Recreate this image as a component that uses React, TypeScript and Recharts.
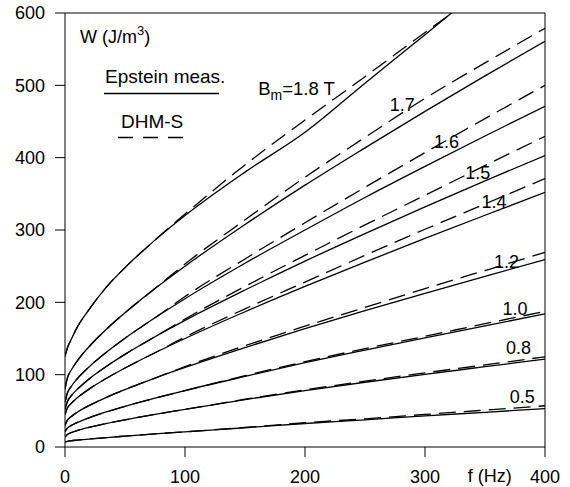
import React from 'react';
import { LineChart, Line, XAxis, YAxis, ReferenceLine, ReferenceDot, Legend } from 'recharts';

const FONT = '"Liberation Sans", Arial, Helvetica, sans-serif';

// frequency grid (Hz)
const FREQ = [0, 2, 5, 10, 20, 35, 50, 75, 100, 150, 200, 250, 300, 350, 400];
const FREQ_18 = [0, 2, 5, 10, 20, 35, 50, 75, 100, 150, 200, 250, 300, 325];

// Epstein measurement (solid), W in J/m^3
const EPSTEIN_05 = [7, 7.9, 8.6, 9.5, 11, 13.1, 15, 18.1, 21, 26.6, 32.5, 37.6, 43, 48, 53];
const EPSTEIN_08 = [14, 17.4, 19.8, 22.6, 27.1, 32.7, 37.6, 45.1, 52, 65.5, 78, 89.5, 100.5, 111, 121.5];
const EPSTEIN_10 = [21, 26.1, 29.5, 33.7, 40.4, 48.8, 56.2, 67.5, 78, 97.6, 116.5, 134, 151, 167.5, 184];
const EPSTEIN_12 = [30, 37.1, 41.9, 47.8, 57.2, 69, 79.4, 95.3, 110, 137.5, 163.5, 188.5, 212.5, 236, 259];
const EPSTEIN_14 = [45, 54, 60, 67.7, 80, 95.4, 109.2, 130.3, 150, 187, 222, 255.6, 288.4, 320.4, 352];
const EPSTEIN_15 = [52, 63, 70.4, 79.5, 94, 112.1, 128.1, 152.4, 175, 217, 257, 295, 332, 368, 403];
const EPSTEIN_16 = [62, 74.7, 83.3, 94, 110.7, 131.7, 150.4, 178.7, 205, 254, 300, 345, 388, 430, 471];
const EPSTEIN_17 = [80, 95.5, 105.7, 118.5, 138.6, 163.6, 185.6, 219.1, 250, 307.6, 362, 413.6, 464, 513, 561];
const EPSTEIN_18 = [125, 137, 148, 165, 190, 222, 248, 286, 320, 380, 435, 503, 570, 604];

// DHM-S model (dashed)
const DHM_05 = [7, 7.9, 8.6, 9.5, 11, 13.1, 15, 18.1, 21, 27, 33.5, 39, 45, 51, 57];
const DHM_08 = [14, 17.4, 19.8, 22.6, 27.1, 32.7, 37.6, 45.1, 52, 66, 79, 91, 102.5, 113.5, 124.7];
const DHM_10 = [21, 26.1, 29.5, 33.7, 40.4, 48.8, 56.2, 67.5, 78, 98.5, 118, 136, 153, 170.5, 187.5];
const DHM_12 = [30, 37.1, 41.9, 47.8, 57.2, 69, 79.4, 95.3, 111, 140, 167, 193, 219, 244, 269];
const DHM_14 = [45, 54, 60, 67.7, 80, 95.4, 109.2, 130.3, 152, 191, 228, 265, 301, 336, 371];
const DHM_15 = [52, 63, 70.4, 79.5, 94, 112.1, 128.1, 152.4, 177, 222, 265, 307, 348, 389, 429.5];
const DHM_16 = [62, 74.7, 83.3, 94, 110.7, 131.7, 150.4, 178.7, 208, 260, 310, 359, 407, 454, 500];
const DHM_17 = [80, 95.5, 105.7, 118.5, 138.6, 163.6, 185.6, 219.1, 253, 314, 373, 428, 482, 531, 579];
const DHM_18 = [125, 137, 148, 165, 190, 222, 248, 286, 322, 390, 452, 512, 573, 603];

const X_TICKS = [0, 100, 200, 300, 400];
const Y_TICKS = [0, 100, 200, 300, 400, 500, 600];

// curve labels: text and anchor (f, W) of text centre
const CURVE_LABELS = ['1.7', '1.6', '1.5', '1.4', '1.2', '1.0', '0.8', '0.5'];
const CURVE_LABEL_F = [281, 318, 344, 357.5, 368, 375, 378, 381];
const CURVE_LABEL_W = [473, 422, 379, 339, 256, 192, 138, 70.5];

const toData = (fs: number[], ws: number[]) => fs.map((f, i) => ({ f, w: ws[i] }));

const SERIES = [
  { key: '05', fs: FREQ, solid: EPSTEIN_05, dashed: DHM_05 },
  { key: '08', fs: FREQ, solid: EPSTEIN_08, dashed: DHM_08 },
  { key: '10', fs: FREQ, solid: EPSTEIN_10, dashed: DHM_10 },
  { key: '12', fs: FREQ, solid: EPSTEIN_12, dashed: DHM_12 },
  { key: '14', fs: FREQ, solid: EPSTEIN_14, dashed: DHM_14 },
  { key: '15', fs: FREQ, solid: EPSTEIN_15, dashed: DHM_15 },
  { key: '16', fs: FREQ, solid: EPSTEIN_16, dashed: DHM_16 },
  { key: '17', fs: FREQ, solid: EPSTEIN_17, dashed: DHM_17 },
  { key: '18', fs: FREQ_18, solid: EPSTEIN_18, dashed: DHM_18 },
];

const getVB = (p: any) => p.viewBox || { x: p.x, y: p.y };

const CenterText = (text: string) => (p: any) => {
  const vb = getVB(p);
  return (
    <text x={vb.x} y={vb.y + 6.5} textAnchor="middle" fontFamily={FONT} fontSize={18} fill="#000">
      {text}
    </text>
  );
};

const BmLabel = (p: any) => {
  const vb = getVB(p);
  return (
    <text x={vb.x} y={vb.y + 6.5} textAnchor="start" fontFamily={FONT} fontSize={18.5} fill="#000">
      <tspan>B</tspan>
      <tspan fontSize={14} dy={5}>m</tspan>
      <tspan dy={-5}>=1.8 T</tspan>
    </text>
  );
};

const WLabel = (p: any) => {
  const vb = getVB(p);
  return (
    <text x={vb.x} y={vb.y} textAnchor="start" fontFamily={FONT} fontSize={18} fill="#000">
      <tspan>W (J/m</tspan>
      <tspan fontSize={13} dy={-8}>3</tspan>
      <tspan dy={8}>)</tspan>
    </text>
  );
};

const FLabel = (p: any) => {
  const vb = getVB(p);
  return (
    <text x={vb.x} y={vb.y + 35} textAnchor="middle" fontFamily={FONT} fontSize={18} fill="#000">
      f (Hz)
    </text>
  );
};

const LegendBox = () => (
  <svg width={140} height={85} style={{ overflow: 'visible', display: 'block' }}>
    <text x={5} y={21} fontFamily={FONT} fontSize={19} fill="#000">Epstein meas.</text>
    <line x1={4} x2={119} y1={31.5} y2={31.5} stroke="#000" strokeWidth={1.3} />
    <text x={21} y={66} fontFamily={FONT} fontSize={19} fill="#000">DHM-S</text>
    <line x1={18} x2={83} y1={75.5} y2={75.5} stroke="#000" strokeWidth={1.3} strokeDasharray="15 10" />
  </svg>
);

export default function App() {
  return (
    <div style={{ position: 'absolute', left: 0, top: 0, width: 570, height: 487, background: '#fff' }}>
      <LineChart width={570} height={487} margin={{ top: 13, right: 25, bottom: 10, left: 0 }}>
        <XAxis
          type="number"
          dataKey="f"
          domain={[0, 400]}
          ticks={X_TICKS}
          allowDataOverflow
          height={30}
          tickSize={10}
          tickMargin={13}
          stroke="#000"
          tick={{ fill: '#000', fontSize: 18, fontFamily: FONT }}
        />
        <YAxis
          type="number"
          dataKey="w"
          domain={[0, 600]}
          ticks={Y_TICKS}
          allowDataOverflow
          width={65}
          tickSize={10}
          tickMargin={10}
          stroke="#000"
          tick={{ fill: '#000', fontSize: 18, fontFamily: FONT }}
        />
        <ReferenceLine y={600} stroke="#000" strokeWidth={1} ifOverflow="visible" />
        <ReferenceLine x={400} stroke="#000" strokeWidth={1} ifOverflow="visible" />
        {SERIES.map((s) => (
          <Line
            key={'s' + s.key}
            data={toData(s.fs, s.solid)}
            dataKey="w"
            type="monotone"
            stroke="#000"
            strokeWidth={1.3}
            dot={false}
            activeDot={false}
            isAnimationActive={false}
            legendType="none"
          />
        ))}
        {SERIES.map((s) => (
          <Line
            key={'d' + s.key}
            data={toData(s.fs, s.dashed)}
            dataKey="w"
            type="monotone"
            stroke="#000"
            strokeWidth={1.3}
            strokeDasharray="17 8"
            dot={false}
            activeDot={false}
            isAnimationActive={false}
            legendType="none"
          />
        ))}
        {CURVE_LABELS.map((t, i) => (
          <ReferenceDot
            key={'l' + t}
            x={CURVE_LABEL_F[i]}
            y={CURVE_LABEL_W[i]}
            r={0}
            fill="none"
            stroke="none"
            ifOverflow="visible"
            label={CenterText(t)}
          />
        ))}
        <ReferenceDot x={161} y={495.6} r={0} fill="none" stroke="none" ifOverflow="visible" label={BmLabel} />
        <ReferenceDot x={12.5} y={558.5} r={0} fill="none" stroke="none" ifOverflow="visible" label={WLabel} />
        <ReferenceDot x={354} y={0} r={0} fill="none" stroke="none" ifOverflow="visible" label={FLabel} />
        <Legend
          layout="horizontal"
          verticalAlign="middle"
          align="center"
          content={<LegendBox />}
          wrapperStyle={{ left: 100, top: 62, width: 140, height: 85 }}
        />
      </LineChart>
    </div>
  );
}
